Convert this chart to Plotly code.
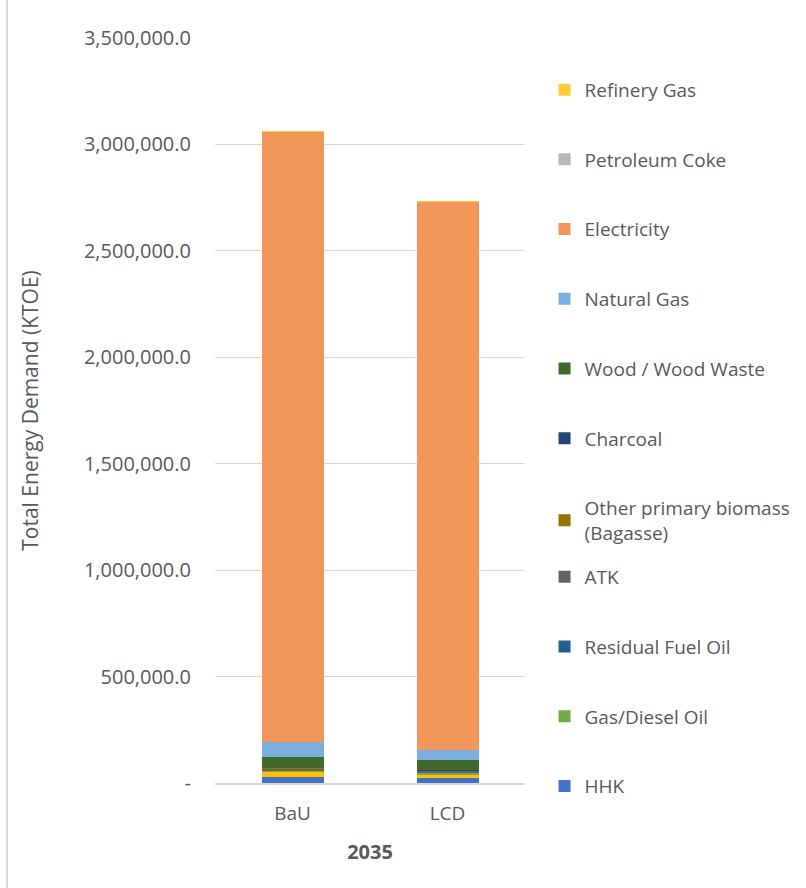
import plotly.graph_objects as go

# Scenarios for 2035
scenarios = ["BaU", "LCD"]

# Final energy demand by fuel (KTOE), stacked bottom to top
hhk = [26000, 25000]
motor_gasoline = [27000, 17000]
gas_diesel = [6000, 6000]
residual_fuel_oil = [2000, 1500]
atk = [9000, 8000]
other_biomass = [1500, 1000]
charcoal = [1000, 800]
wood = [52000, 47000]
natural_gas = [70000, 50000]
electricity = [2864000, 2576000]
petroleum_coke = [200, 150]
refinery_gas = [200, 150]

y_tickvals = [0, 500000, 1000000, 1500000, 2000000, 2500000, 3000000, 3500000]
y_ticktext = ["-", "500,000.0", "1,000,000.0", "1,500,000.0", "2,000,000.0",
              "2,500,000.0", "3,000,000.0", "3,500,000.0"]

FONT = "Open Sans"
TEXT = "#595959"

# (name, values, colour, legend id or None when not listed, rank in legend)
series = [
    ("HHK", hhk, "#4472C4", "legend2", 4),
    ("Motor Gasoline", motor_gasoline, "#FFC000", None, 0),
    ("Gas/Diesel Oil", gas_diesel, "#70AD47", "legend2", 3),
    ("Residual Fuel Oil", residual_fuel_oil, "#255E91", "legend2", 2),
    ("ATK", atk, "#636363", "legend2", 1),
    ("Other primary biomass<br>(Bagasse)", other_biomass, "#997300", "legend", 7),
    ("Charcoal", charcoal, "#264478", "legend", 6),
    ("Wood / Wood Waste", wood, "#43682B", "legend", 5),
    ("Natural Gas", natural_gas, "#7CAFDD", "legend", 4),
    ("Electricity", electricity, "#F1975A", "legend", 3),
    ("Petroleum Coke", petroleum_coke, "#B7B7B7", "legend", 2),
    ("Refinery Gas", refinery_gas, "#FFCA33", "legend", 1),
]

fig = go.Figure()
for i, (name, vals, color, leg, rank) in enumerate(series):
    fig.add_trace(go.Bar(
        x=scenarios, y=vals, name=name,
        marker=dict(color=color, line=dict(width=0)),
        showlegend=leg is not None,
        legend=leg if leg else "legend",
        legendgroup=f"g{i}",
        legendrank=rank,
    ))

legend_style = dict(
    font=dict(family=FONT, size=19, color=TEXT),
    traceorder="grouped",
    tracegroupgap=42,
    itemwidth=30,
    bgcolor="rgba(0,0,0,0)",
    xanchor="left",
    yanchor="top",
)

fig.update_layout(
    width=806, height=888,
    margin=dict(l=215, r=281, t=38, b=105, autoexpand=False),
    paper_bgcolor="white",
    plot_bgcolor="white",
    barmode="stack",
    bargap=0.6,
    font=dict(family=FONT, color=TEXT, size=19),
    legend=dict(x=1.063, y=0.956, **legend_style),
    legend2=dict(x=1.063, y=0.302, **legend_style),
    xaxis=dict(
        title=dict(text="<b>2035</b>", font=dict(family=FONT, size=20, color=TEXT), standoff=20),
        tickfont=dict(family=FONT, size=19, color=TEXT),
        showline=True, linecolor="#D9D9D9", linewidth=2,
        ticks="", showgrid=False,
        ticklabelstandoff=12,
    ),
    yaxis=dict(
        title=dict(text="Total Energy Demand (KTOE)", font=dict(family=FONT, size=21, color=TEXT), standoff=39),
        range=[0, 3500000],
        tickvals=y_tickvals, ticktext=y_ticktext,
        tickfont=dict(family=FONT, size=20, color=TEXT),
        showgrid=True, gridcolor="#D9D9D9", gridwidth=1,
        zeroline=False, showline=False, ticks="",
        ticklabelstandoff=23,
    ),
    shapes=[dict(type="line", xref="paper", yref="paper",
                 x0=-0.671, x1=-0.671, y0=-0.15, y1=1.06,
                 line=dict(color="#D9D9D9", width=2))],
)

fig.write_html("out.html")
